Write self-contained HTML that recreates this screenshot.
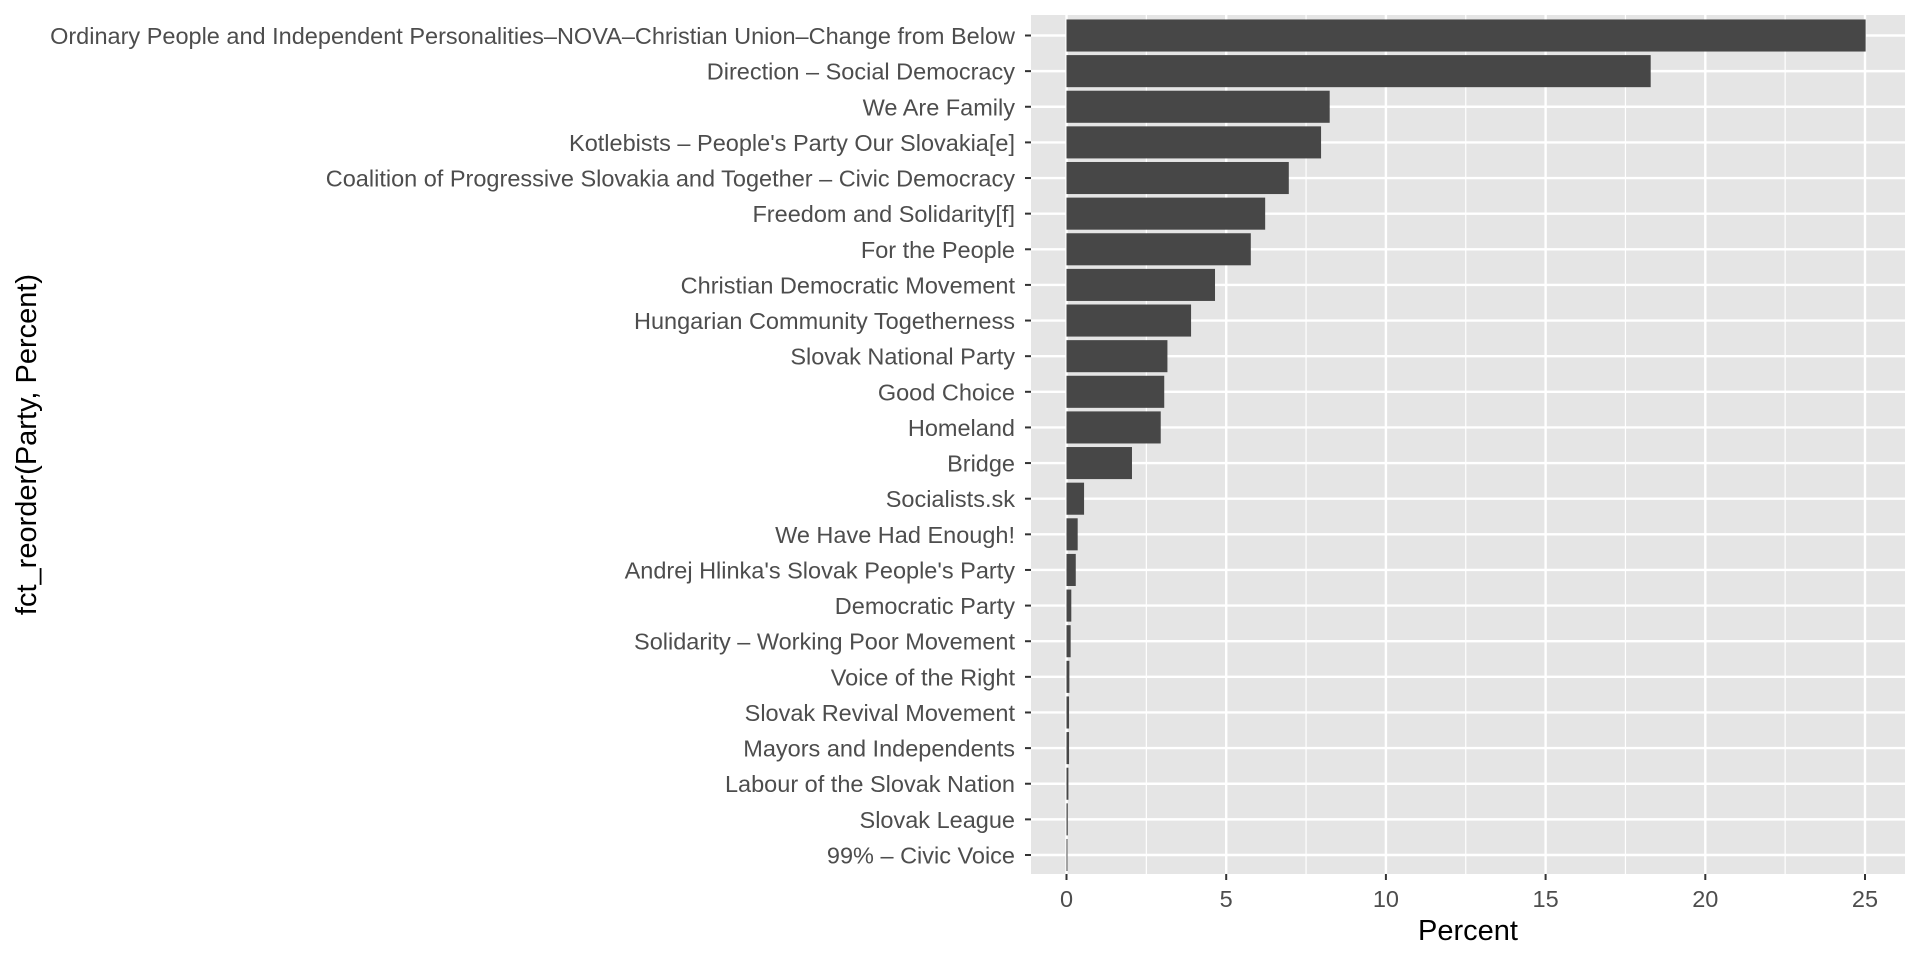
<!DOCTYPE html>
<html><head><meta charset="utf-8"><style>
html,body{margin:0;padding:0;background:#fff;}
svg text{font-family:"Liberation Sans",Arial,sans-serif;}
</style></head><body>
<svg id="chart" width="1920" height="960" xmlns="http://www.w3.org/2000/svg">
<rect width="1920" height="960" fill="#fff"/>
<g id="g"></g>
</svg>
<script>
const categories = ["Ordinary People and Independent Personalities–NOVA–Christian Union–Change from Below","Direction – Social Democracy","We Are Family","Kotlebists – People's Party Our Slovakia[e]","Coalition of Progressive Slovakia and Together – Civic Democracy","Freedom and Solidarity[f]","For the People","Christian Democratic Movement","Hungarian Community Togetherness","Slovak National Party","Good Choice","Homeland","Bridge","Socialists.sk","We Have Had Enough!","Andrej Hlinka's Slovak People's Party","Democratic Party","Solidarity – Working Poor Movement","Voice of the Right","Slovak Revival Movement","Mayors and Independents","Labour of the Slovak Nation","Slovak League","99% – Civic Voice"];
const values = [25.02,18.29,8.24,7.97,6.96,6.22,5.77,4.65,3.90,3.16,3.06,2.95,2.05,0.55,0.35,0.29,0.15,0.13,0.09,0.08,0.08,0.06,0.04,0.03];
const xTicks = [0,5,10,15,20,25];
const xMinor = [2.5,7.5,12.5,17.5,22.5];

const NS="http://www.w3.org/2000/svg";
const g=document.getElementById('g');
const PL=1031,PR=1905,PT=15,PB=874;
const x0=1066.5,x25=1865;
const xs=v=>x0+(x25-x0)*v/25;
const rowStep=(855-35.5)/(categories.length-1);
const ys=i=>35.5+i*rowStep;
function mk(t,a){const e=document.createElementNS(NS,t);for(const k in a)e.setAttribute(k,a[k]);g.appendChild(e);return e;}
let e=mk('rect',{x:PL,y:PT,width:PR-PL,height:PB-PT,fill:'#e5e5e5'});


xMinor.forEach(v=>{const l=mk('line',{x1:xs(v),x2:xs(v),y1:PT,y2:PB,stroke:'#fff','stroke-width':1.2});

});
xTicks.forEach(v=>{const l=mk('line',{x1:xs(v),x2:xs(v),y1:PT,y2:PB,stroke:'#fff','stroke-width':2.4});


const t=mk('line',{x1:xs(v),x2:xs(v),y1:PB,y2:PB+6,stroke:'#333','stroke-width':2});


const tx=mk('text',{x:xs(v),y:PB+33,'text-anchor':'middle','font-size':23.5,fill:'#4d4d4d'});tx.textContent=v;

});
categories.forEach((c,i)=>{const y=ys(i);
const l=mk('line',{x1:PL,x2:PR,y1:y,y2:y,stroke:'#fff','stroke-width':2.4});


const b=mk('rect',{x:xs(0),y:y-rowStep*0.45,width:Math.max(0,xs(values[i])-xs(0)),height:rowStep*0.9,fill:'#474747'});


const t=mk('line',{x1:PL-6,x2:PL,y1:y,y2:y,stroke:'#333','stroke-width':2});


const tx=mk('text',{x:PL-16,y:y+8.5,'text-anchor':'end','font-size':23.5,fill:'#4d4d4d'});tx.textContent=c;

});
e=mk('text',{x:(PL+PR)/2,y:940,'text-anchor':'middle','font-size':29,fill:'#000'});e.textContent='Percent';


e=mk('text',{x:0,y:0,'text-anchor':'middle','font-size':29,fill:'#000',transform:'translate(36,'+((PT+PB)/2)+') rotate(-90)'});e.textContent='fct_reorder(Party, Percent)';


</script>
</body></html>
